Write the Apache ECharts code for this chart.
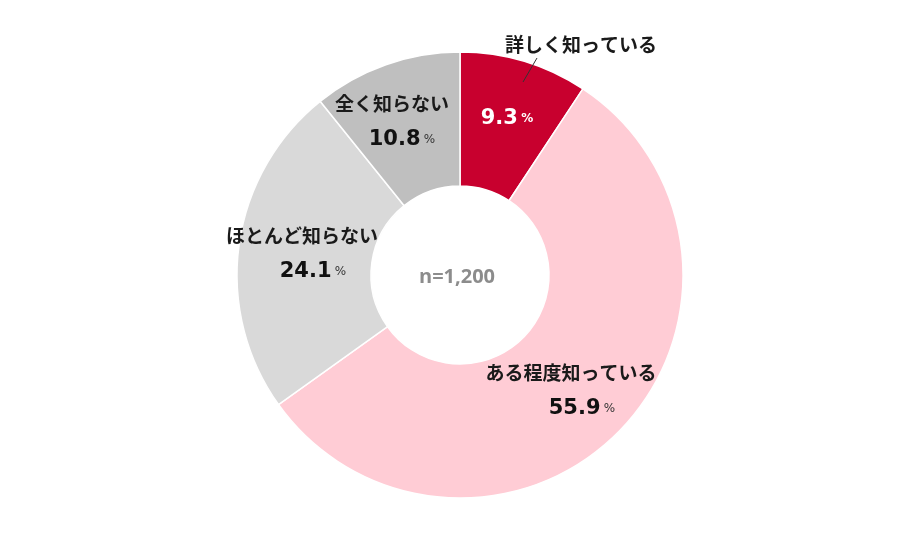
<!DOCTYPE html>
<html>
<head>
<meta charset="utf-8">
<script src="https://cdn.jsdelivr.net/npm/echarts@6/dist/echarts.min.js"></script>
<style>
  html, body { margin: 0; padding: 0; background: #ffffff; }
  #chart { width: 920px; height: 544px; }
</style>
</head>
<body>
<div id="chart"></div>
<script>
// Awareness survey answers (share of respondents, %)
const categories = ['詳しく知っている', 'ある程度知っている', 'ほとんど知らない', '全く知らない'];
const shares = [9.3, 55.9, 24.1, 10.8];
const sampleNote = 'n=1,200';

const colors = ['#C8002E', '#FFCCD5', '#D9D9D9', '#BFBFBF'];
// label anchor points (centre of each label block) and value-line indent
const labelAnchors = [[507, 119], [571, 391], [302, 254], [392, 122]];
const valueIndent = [0, 22, 22, 20];

const jp = '"Noto Sans CJK JP", "Noto Sans", sans-serif';
const num = '"DejaVu Sans", "Noto Sans", sans-serif';

const chart = echarts.init(document.getElementById('chart'), null, { renderer: 'canvas' });

const data = categories.map((name, i) => ({
  name: name,
  value: shares[i],
  itemStyle: { color: colors[i] },
  label: i === 0
    ? { formatter: (p) => '{w|' + p.value.toFixed(1) + '} {wp|%}' }
    : { formatter: (p) => '{n|' + p.name + '}\n{v|' + p.value.toFixed(1) + '} {p|%}',
        rich: {
          n: { fontFamily: jp, fontSize: 19, fontWeight: 'bold', color: '#1a1a1a', lineHeight: 36 },
          v: { fontFamily: num, fontSize: 21, fontWeight: 'bold', color: '#111111', lineHeight: 36, padding: [0, 0, 0, valueIndent[i]] },
          p: { fontFamily: num, fontSize: 12, color: '#333333', lineHeight: 36 }
        } }
}));

chart.setOption({
  animation: false,
  backgroundColor: '#ffffff',
  series: [{
    type: 'pie',
    center: [460, 275],
    radius: [89, 223],
    startAngle: 90,
    clockwise: true,
    avoidLabelOverlap: false,
    itemStyle: { borderColor: '#ffffff', borderWidth: 1.5 },
    emphasis: { disabled: true },
    label: {
      show: true,
      position: 'inside',
      rich: {
        w: { fontFamily: num, fontSize: 21, fontWeight: 'bold', color: '#ffffff' },
        wp: { fontFamily: num, fontSize: 12, fontWeight: 'bold', color: '#ffffff' }
      }
    },
    labelLine: { show: false },
    labelLayout: function (params) {
      const a = labelAnchors[params.dataIndex];
      return { x: a[0], y: a[1], align: 'center', verticalAlign: 'middle' };
    },
    data: data
  }],
  graphic: [
    {
      type: 'text',
      left: 505, top: 35, z: 100,
      style: { text: categories[0], font: 'bold 19px ' + jp, fill: '#1a1a1a' }
    },
    {
      type: 'line',
      z: 100,
      shape: { x1: 537, y1: 58, x2: 523, y2: 82 },
      style: { stroke: '#333333', lineWidth: 1 }
    },
    {
      type: 'text',
      x: 457, y: 277, z: 100,
      style: { text: sampleNote, font: 'bold 20px "Open Sans", "Noto Sans", sans-serif', fill: '#8C8C8C', align: 'center', verticalAlign: 'middle' }
    }
  ]
});
</script>
</body>
</html>
